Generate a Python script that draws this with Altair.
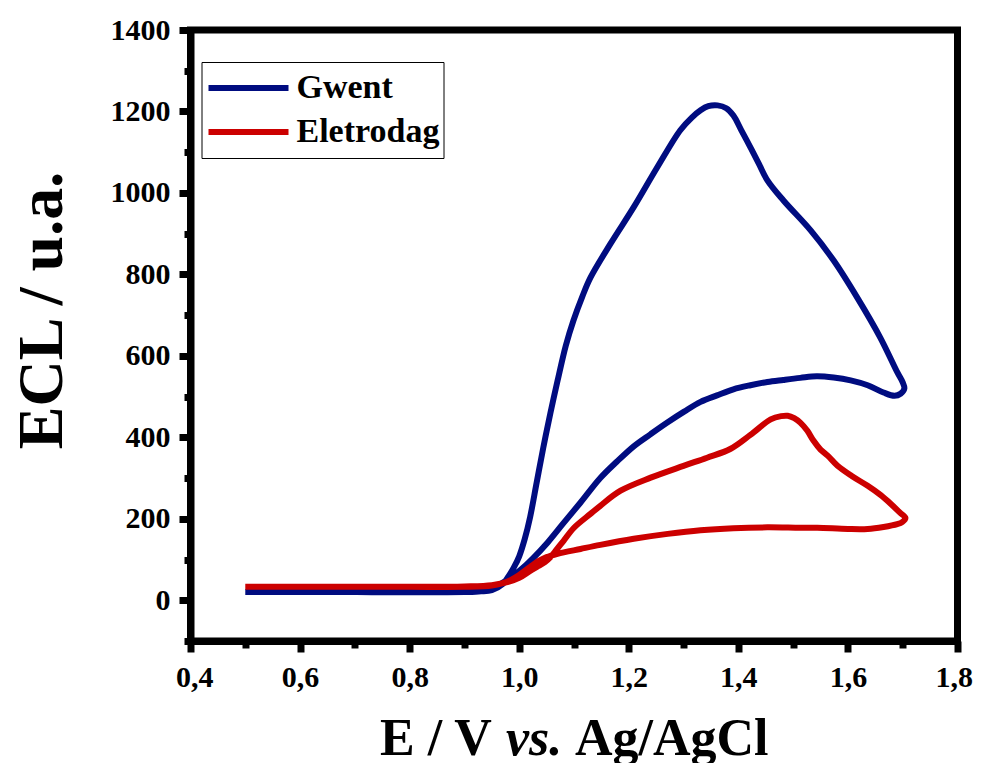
import altair as alt
import pandas as pd

series_names = ["Gwent", "Eletrodag"]
series_colors = ["#000C80", "#CC0000"]

gwent_E = [0.50, 0.60, 0.70, 0.80, 0.90, 0.93, 0.95, 0.97, 0.98, 0.99, 1.00, 1.01, 1.02, 1.032,
           1.044, 1.057, 1.07, 1.085, 1.099, 1.115, 1.13, 1.167, 1.209, 1.252, 1.294, 1.315, 1.331,
           1.345, 1.362, 1.378, 1.391, 1.405, 1.422, 1.438, 1.453, 1.482, 1.532, 1.574, 1.617, 1.659,
           1.690, 1.700, 1.703, 1.696, 1.685, 1.665, 1.636, 1.605, 1.574, 1.543, 1.513, 1.482, 1.453,
           1.422, 1.391, 1.361, 1.331, 1.301, 1.271, 1.240, 1.209, 1.178, 1.148, 1.112, 1.080, 1.052,
           1.025, 1.002, 0.985, 0.966, 0.950, 0.930, 0.900, 0.800, 0.700, 0.600, 0.500]
gwent_ECL = [20, 20, 20, 20, 21, 22, 25, 40, 58, 80, 108, 150, 205, 290,
             375, 460, 539, 625, 687, 745, 792, 876, 965, 1063, 1154, 1185, 1203,
             1213, 1215, 1208, 1190, 1155, 1112, 1070, 1031, 982, 908, 834, 743, 645,
             560, 535, 520, 507, 502, 510, 528, 540, 547, 550, 546, 541, 536,
             528, 518, 503, 487, 463, 437, 408, 378, 340, 300, 240, 188, 142,
             103, 74, 56, 40, 28, 22, 20, 20, 20, 20, 20]

elet_E = [0.50, 0.60, 0.70, 0.80, 0.90, 0.95, 0.98, 1.00, 1.02, 1.035, 1.047, 1.057, 1.068, 1.081,
          1.10, 1.13, 1.148, 1.185, 1.24, 1.30, 1.343, 1.386, 1.422, 1.459, 1.478, 1.490, 1.502,
          1.513, 1.526, 1.537, 1.550, 1.563, 1.581, 1.607, 1.636, 1.660, 1.678, 1.695, 1.705, 1.699,
          1.690, 1.665, 1.636, 1.600, 1.544, 1.513, 1.453, 1.391, 1.331, 1.271, 1.209, 1.148, 1.112,
          1.070, 1.050, 1.035, 1.020, 1.000, 0.985, 0.970, 0.950, 0.900, 0.800, 0.700, 0.600, 0.500]
elet_ECL = [33, 33, 33, 33, 34, 37, 45, 55, 72, 84, 94, 106, 124, 146,
            178, 212, 232, 269, 301, 330, 350, 372, 406, 444, 452, 453, 447,
            436, 416, 392, 370, 355, 330, 305, 281, 258, 237, 215, 202, 192,
            187, 180, 175, 175, 178, 178, 179, 177, 172, 163, 151, 136, 126,
            114, 106, 96, 82, 62, 50, 42, 36, 33, 33, 33, 33, 33]

x_ticks = [0.4, 0.5, 0.6, 0.7, 0.8, 0.9, 1.0, 1.1, 1.2, 1.3, 1.4, 1.5, 1.6, 1.7, 1.8]
y_ticks = [-100, 0, 100, 200, 300, 400, 500, 600, 700, 800, 900, 1000, 1100, 1200, 1300, 1400]

x_title_parts = ["E / V", "vs.", "Ag/AgCl"]
y_title = "ECL / u.a."

assert len(gwent_E) == len(gwent_ECL)
assert len(elet_E) == len(elet_ECL)

df = pd.concat([
    pd.DataFrame({"E": gwent_E, "ECL": gwent_ECL, "series": series_names[0], "i": range(len(gwent_E))}),
    pd.DataFrame({"E": elet_E, "ECL": elet_ECL, "series": series_names[1], "i": range(len(elet_E))}),
])

FONT = "Liberation Serif"

x_axis = alt.Axis(
    values=x_ticks,
    labelExpr="round(datum.value*10) % 2 === 0 ? replace(format(datum.value, '.1f'), '.', ',') : ''",
    tickSize={"condition": {"test": "round(datum.value*10) % 2 === 0", "value": 11}, "value": 7},
    tickWidth=7, tickColor="black", domainWidth=7, domainColor="black",
    labelFont=FONT, labelFontWeight="bold", labelFontSize=30, labelColor="black",
    labelPadding=10, grid=False, title=None, labelFlush=True, labelFlushOffset=15,
    labelOverlap=False,
)
y_axis = alt.Axis(
    values=y_ticks,
    labelExpr="datum.value % 200 === 0 ? format(datum.value, 'd') : ''",
    tickSize={"condition": {"test": "datum.value % 200 === 0", "value": 11.5}, "value": 6.5},
    tickWidth=7, tickColor="black", domainWidth=7, domainColor="black",
    labelFont=FONT, labelFontWeight="bold", labelFontSize=30, labelColor="black",
    labelPadding=9, grid=False, labelOverlap=False, labelFlush=False,
    title=y_title, titleFont=FONT, titleFontSize=64, titleFontWeight="bold", titleColor="black",
    titleAngle=270, titleX=-129.5, titleY=280, titleAlign="center", titleBaseline="alphabetic",
)

x_enc = alt.X("E:Q", scale=alt.Scale(domain=[0.4, 1.8], nice=False, zero=False), axis=x_axis)
y_enc = alt.Y("ECL:Q", scale=alt.Scale(domain=[-100, 1400], nice=False, zero=False), axis=y_axis)
color_enc = alt.Color(
    "series:N",
    scale=alt.Scale(domain=series_names, range=series_colors),
    title=None,
    legend=alt.Legend(
        orient="none", legendX=11, legendY=32, symbolType="stroke", symbolSize=6400,
        symbolStrokeWidth=6, labelFont=FONT, labelFontWeight="bold", labelFontSize=34,
        labelColor="black", labelOffset=5, clipHeight=44, rowPadding=0, padding=4,
        strokeColor="black", fillColor="white", labelLimit=400, symbolOpacity=1,
    ),
)

base = alt.Chart(df)
blue = base.transform_filter(alt.datum.series == series_names[0]).mark_line(
    strokeWidth=6, interpolate="catmull-rom"
).encode(x=x_enc, y=y_enc, color=color_enc, order="i:Q")
red = base.transform_filter(alt.datum.series == series_names[1]).mark_line(
    strokeWidth=6, interpolate="catmull-rom"
).encode(x=x_enc, y=y_enc, color=color_enc, order="i:Q")

def title_part(text, x, italic):
    return alt.Chart(pd.DataFrame({"t": [text]})).mark_text(
        font=FONT, fontSize=52, fontWeight="bold", fontStyle="italic" if italic else "normal",
        align="left", baseline="alphabetic", color="black",
    ).encode(text="t:N", x=alt.value(x), y=alt.value(725))

t1 = title_part(x_title_parts[0], 189.5, False)
t2 = title_part(x_title_parts[1], 315.5, True)
t3 = title_part(x_title_parts[2], 384.5, False)

chart = alt.layer(blue, red, t1, t2, t3).properties(
    width=767, height=611,
    autosize=alt.AutoSizeParams(type="none"),
    padding={"left": 182.5, "top": 22, "right": 15, "bottom": 122},
    background="white",
).configure_view(stroke="black", strokeWidth=7)

chart.save("out.html", embed_options={"renderer": "svg", "actions": False})
